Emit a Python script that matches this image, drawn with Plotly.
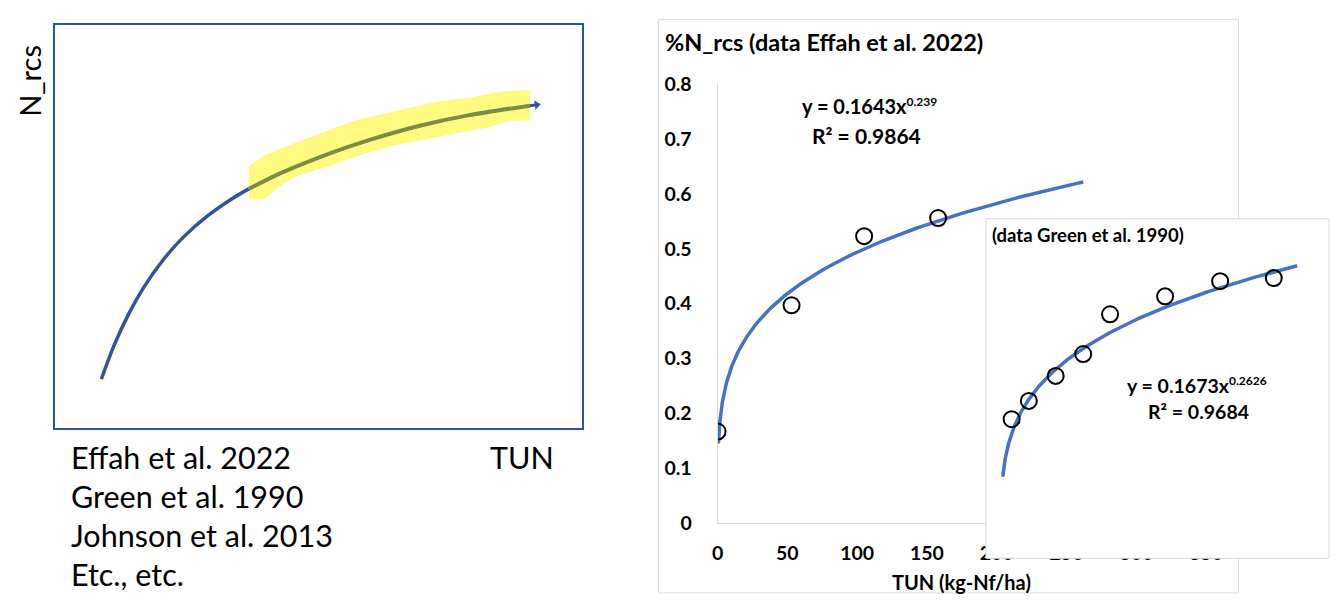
import numpy as np
import plotly.graph_objects as go

W, H = 1342, 602

# ---------------- data ----------------
# Panel 1: schematic N_rcs vs TUN curve (abstract units 0-100)
schem_x = [8.77, 11.19, 13.99, 16.79, 20.52, 24.25, 28.92, 33.58, 36.75,
           42.91, 50.37, 59.70, 69.03, 78.36, 90.11, 91.42]
schem_y = [12.21, 20.57, 28.43, 34.86, 41.76, 47.24, 52.60, 56.88, 59.31,
           63.26, 67.26, 71.43, 74.88, 77.50, 79.90, 80.12]
hilite_start = 8  # index where the highlighted part begins
band_x = [36.8, 39.7, 46.1, 52.2, 57.3, 64.7, 72.8, 78.9, 83.4, 86.4, 90.1,
          90.1, 86.4, 82.1, 77.1, 70.9, 64.7, 58.4, 52.2, 46.1, 42.9, 39.7, 36.8]
band_y = [65.0, 67.6, 71.0, 74.0, 76.4, 78.6, 81.0, 81.9, 83.1, 83.6, 83.8,
          76.3, 76.2, 74.5, 73.3, 71.7, 70.2, 67.9, 65.0, 62.6, 60.2, 56.7, 56.7]
ref_lines = ["Effah et al. 2022", "Green et al. 1990", "Johnson et al. 2013", "Etc., etc."]

# Panel 2: Effah et al. 2022
effah_tun = [0, 53, 105, 158]
effah_n = [0.167, 0.397, 0.523, 0.556]
effah_a, effah_b = 0.1643, 0.239
effah_r2 = 0.9864
effah_fit_range = (0.6, 262)
x_ticks = [0, 50, 100, 150, 200, 250, 300, 350]
y_ticks = [0, 0.1, 0.2, 0.3, 0.4, 0.5, 0.6, 0.7, 0.8]

# Panel 3 (inset): Green et al. 1990
green_tun = [16, 41, 80, 120, 159, 239, 319, 397]
green_n = [0.387, 0.439, 0.510, 0.572, 0.685, 0.736, 0.779, 0.788]
green_a, green_b = 0.1673, 0.2626
green_r2 = 0.9684
green_fit_range = (3, 431)

# ---------------- helpers ----------------
def px(x):
    return x / W

def py(y):
    return 1 - y / H

FONT = "Lato"
BLUE_DARK = "#2F5597"
TREND = "#4472C4"
GRAY = "#D9D9D9"

fig = go.Figure()

# ---- Panel 1 ----
fig.add_trace(go.Scatter(x=band_x, y=band_y, fill="toself", fillcolor="#FFFB80",
                         line=dict(width=0), mode="lines", xaxis="x", yaxis="y",
                         hoverinfo="skip", showlegend=False))
fig.add_trace(go.Scatter(x=schem_x[:hilite_start + 1], y=schem_y[:hilite_start + 1],
                         mode="lines", line=dict(color=BLUE_DARK, width=3.5, shape="spline",
                                                 smoothing=0.8),
                         xaxis="x", yaxis="y", showlegend=False))
fig.add_trace(go.Scatter(x=schem_x[hilite_start:-1], y=schem_y[hilite_start:-1],
                         mode="lines", line=dict(color="#7E8B47", width=4, shape="spline",
                                                 smoothing=0.8),
                         xaxis="x", yaxis="y", showlegend=False))
fig.add_trace(go.Scatter(x=schem_x[-2:], y=schem_y[-2:], mode="lines",
                         line=dict(color=BLUE_DARK, width=3),
                         xaxis="x", yaxis="y", showlegend=False))
fig.add_trace(go.Scatter(x=schem_x[-1:], y=schem_y[-1:], mode="markers",
                         marker=dict(symbol="triangle-right", size=8, color=BLUE_DARK, angle=-8),
                         xaxis="x", yaxis="y", showlegend=False))

# ---- Panel 2 ----
fx = np.geomspace(effah_fit_range[0], effah_fit_range[1], 300)
fig.add_trace(go.Scatter(x=fx, y=effah_a * fx ** effah_b, mode="lines",
                         line=dict(color=TREND, width=3.5), xaxis="x2", yaxis="y2",
                         showlegend=False))
fig.add_trace(go.Scatter(x=effah_tun, y=effah_n, mode="markers",
                         marker=dict(symbol="circle-open", size=16, color="black",
                                     line=dict(width=2, color="black")),
                         xaxis="x2", yaxis="y2", showlegend=False))

# ---- Panel 3 (inset) ----
gx = np.geomspace(green_fit_range[0], green_fit_range[1], 300)
fig.add_trace(go.Scatter(x=gx, y=green_a * gx ** green_b, mode="lines",
                         line=dict(color=TREND, width=3.5), xaxis="x3", yaxis="y3",
                         showlegend=False))
fig.add_trace(go.Scatter(x=green_tun, y=green_n, mode="markers",
                         marker=dict(symbol="circle-open", size=16, color="black",
                                     line=dict(width=2, color="black")),
                         xaxis="x3", yaxis="y3", showlegend=False))

hidden = dict(showgrid=False, zeroline=False, showticklabels=False, ticks="")

def note(text, x, y, size, xanchor="center", bold=False, angle=0):
    return dict(text=f"<b>{text}</b>" if bold else text, x=px(x), y=py(y),
                xref="paper", yref="paper", xanchor=xanchor, yanchor="middle",
                textangle=angle, showarrow=False,
                font=dict(size=size, family=FONT, color="black"))

annotations = []
# panel 1 texts
annotations.append(note("N_rcs", 24, 72, 29, angle=-90))
for i, t in enumerate(ref_lines):
    annotations.append(note(t, 64, 463 + 40.5 * i, 30.5, xanchor="left"))
annotations.append(note("TUN", 525, 463, 30.5))
# panel 2 texts
annotations.append(note("%N_rcs (data Effah et al. 2022)", 668, 31, 23.5, xanchor="left", bold=True))
annotations.append(note(f"y = {effah_a}x<sup><span style='font-size:12px'>{effah_b}</span></sup>",
                        879, 98, 20, bold=True))
annotations.append(note(f"R² = {effah_r2}", 876, 128, 21, bold=True))
annotations.append(note("TUN (kg-Nf/ha)", 972, 593, 20, bold=True))
# inset texts
annotations.append(note("(data Green et al. 1990)", 1001, 232, 18.5, xanchor="left", bold=True))
annotations.append(note(f"y = {green_a}x<sup><span style='font-size:12px'>{green_b}</span></sup>",
                        1212, 388, 19.5, bold=True))
annotations.append(note(f"R² = {green_r2}", 1213, 415, 19.5, bold=True))

shapes = [
    # outer frame of the Effah chart
    dict(type="rect", xref="paper", yref="paper", x0=px(664), x1=px(1254), y0=py(604), y1=py(8),
         line=dict(color=GRAY, width=1), fillcolor="rgba(0,0,0,0)", layer="below"),
    # frame of the inset
    dict(type="rect", xref="paper", yref="paper", x0=px(997), x1=px(1346), y0=py(568), y1=py(215),
         line=dict(color=GRAY, width=1), fillcolor="rgba(0,0,0,0)", layer="above"),
]

fig.update_layout(
    width=W, height=H, autosize=False,
    margin=dict(l=0, r=0, t=0, b=0),
    paper_bgcolor="white", plot_bgcolor="white",
    font=dict(family=FONT, color="black"),
    showlegend=False,
    xaxis=dict(domain=[px(50), px(586)], range=[0, 100], showline=True, mirror=True,
               linecolor=BLUE_DARK, linewidth=1.5, **hidden),
    yaxis=dict(domain=[py(433), py(13)], range=[0, 100], showline=True, mirror=True,
               linecolor=BLUE_DARK, linewidth=1.5, **hidden),
    xaxis2=dict(domain=[px(724), px(1221)], range=[0, 350], tickvals=x_ticks,
                showline=True, linecolor=GRAY, linewidth=1, showgrid=False, zeroline=False,
                ticks="", ticklabelstandoff=12,
                tickfont=dict(size=19.5, family=FONT, color="black", weight="bold"),
                anchor="y2"),
    yaxis2=dict(domain=[py(531.5), py(75)], range=[0, 0.8], tickvals=y_ticks,
                showline=True, linecolor=GRAY, linewidth=1, showgrid=False, zeroline=False,
                ticks="", ticklabelstandoff=21,
                tickfont=dict(size=19.5, family=FONT, color="black", weight="bold"),
                anchor="x2"),
    xaxis3=dict(domain=[px(997), 1.0], range=[-21.43, 471.43], anchor="y3", **hidden),
    yaxis3=dict(domain=[py(568), py(215)], range=[-0.0082, 0.9563], anchor="x3", **hidden),
    annotations=annotations,
    shapes=shapes,
)

fig.write_html("out.html")
